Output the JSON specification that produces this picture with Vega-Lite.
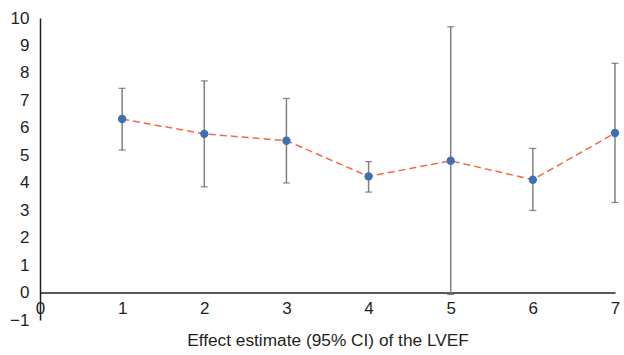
{
  "$schema": "https://vega.github.io/schema/vega-lite/v6.json",
  "width": 575,
  "height": 302,
  "autosize": {"type": "none"},
  "padding": {"left": 40, "top": 18, "right": 9, "bottom": 35},
  "background": "white",
  "config": {
    "view": {"stroke": null},
    "axis": {"labelFont": "Liberation Sans", "titleFont": "Liberation Sans", "labelColor": "#231F20", "titleColor": "#231F20", "grid": false, "labelOverlap": false}
  },
  "data": {
    "values": [
      {"x": 1, "est": 6.32, "lo": 5.19, "hi": 7.44},
      {"x": 2, "est": 5.78, "lo": 3.85, "hi": 7.71},
      {"x": 3, "est": 5.53, "lo": 3.99, "hi": 7.07},
      {"x": 4, "est": 4.23, "lo": 3.66, "hi": 4.77},
      {"x": 5, "est": 4.8, "lo": -0.07, "hi": 9.68},
      {"x": 6, "est": 4.11, "lo": 2.99, "hi": 5.25},
      {"x": 7, "est": 5.81, "lo": 3.28, "hi": 8.35}
    ]
  },
  "encoding": {
    "x": {
      "field": "x", "type": "quantitative",
      "scale": {"domain": [0, 7], "nice": false, "zero": false},
      "axis": {"values": [0, 1, 2, 3, 4, 5, 6, 7], "offset": -27.5, "domain": true, "domainColor": "#231F20", "domainWidth": 1.5, "ticks": false, "labelFontSize": 17, "labelPadding": 8, "labelFlush": false, "labelOverlap": false, "title": "Effect estimate (95% CI) of the LVEF", "titleFontSize": 17.3, "titleFontWeight": "normal", "titlePadding": 15}
    }
  },
  "layer": [
    {
      "mark": {"type": "rule", "color": "#808080", "strokeWidth": 1.5},
      "encoding": {
        "y": {
          "field": "lo", "type": "quantitative",
          "scale": {"domain": [-1, 10], "nice": false, "zero": false},
          "axis": {"values": [-1, 0, 1, 2, 3, 4, 5, 6, 7, 8, 9, 10], "domain": true, "domainColor": "#231F20", "domainWidth": 1.5, "ticks": false, "labelFontSize": 17, "labelPadding": 11, "labelFlush": false, "labelOverlap": false, "title": null}
        },
        "y2": {"field": "hi"}
      }
    },
    {
      "mark": {"type": "tick", "orient": "horizontal", "color": "#555555", "size": 7, "thickness": 1.2},
      "encoding": {"y": {"field": "lo", "type": "quantitative", "axis": {"values": [-1, 0, 1, 2, 3, 4, 5, 6, 7, 8, 9, 10], "domain": true, "domainColor": "#231F20", "domainWidth": 1.5, "ticks": false, "labelFontSize": 17, "labelPadding": 11, "labelFlush": false, "labelOverlap": false, "title": null}}}
    },
    {
      "mark": {"type": "tick", "orient": "horizontal", "color": "#555555", "size": 7, "thickness": 1.2},
      "encoding": {"y": {"field": "hi", "type": "quantitative", "axis": {"values": [-1, 0, 1, 2, 3, 4, 5, 6, 7, 8, 9, 10], "domain": true, "domainColor": "#231F20", "domainWidth": 1.5, "ticks": false, "labelFontSize": 17, "labelPadding": 11, "labelFlush": false, "labelOverlap": false, "title": null}}}
    },
    {
      "mark": {"type": "line", "color": "#F26B45", "strokeDash": [7, 4], "strokeWidth": 1.5},
      "encoding": {"y": {"field": "est", "type": "quantitative", "axis": {"values": [-1, 0, 1, 2, 3, 4, 5, 6, 7, 8, 9, 10], "domain": true, "domainColor": "#231F20", "domainWidth": 1.5, "ticks": false, "labelFontSize": 17, "labelPadding": 11, "labelFlush": false, "labelOverlap": false, "title": null}}}
    },
    {
      "mark": {"type": "point", "filled": true, "shape": "circle", "color": "#3E6FB0", "opacity": 1, "size": 70},
      "encoding": {"y": {"field": "est", "type": "quantitative", "axis": {"values": [-1, 0, 1, 2, 3, 4, 5, 6, 7, 8, 9, 10], "domain": true, "domainColor": "#231F20", "domainWidth": 1.5, "ticks": false, "labelFontSize": 17, "labelPadding": 11, "labelFlush": false, "labelOverlap": false, "title": null}}}
    }
  ]
}
